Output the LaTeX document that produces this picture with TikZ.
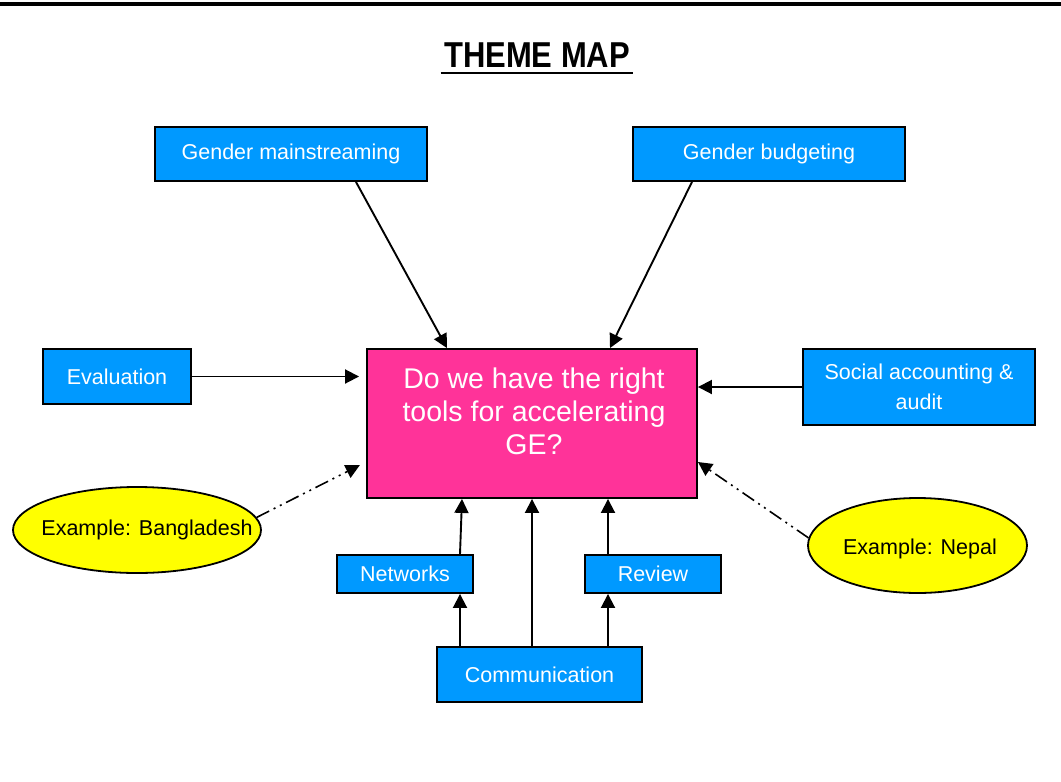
\documentclass[tikz,border=0pt]{standalone}
\usepackage{fontspec}
\setmainfont{Liberation Sans}
\newfontfamily\titlefont[FakeStretch=0.86]{Liberation Sans}
\usetikzlibrary{arrows.meta,shapes.geometric}
\definecolor{boxblue}{HTML}{0099FF}
\definecolor{mainpink}{HTML}{FF3399}
\definecolor{exyellow}{HTML}{FFFF00}
\begin{document}
\begin{tikzpicture}[x=1pt,y=-1pt,
  box/.style={draw=black, line width=1.9pt, fill=boxblue, text=white,
    font=\fontsize{21.5}{30}\selectfont, inner sep=0pt, align=center},
  example/.style={ellipse, draw=black, line width=1.8pt, fill=exyellow, text=black, inner sep=0pt},
  extext/.style={font=\fontsize{21.5}{25}\selectfont, text=black},
  arr/.style={draw=black, line width=1.9pt, -{Triangle[length=14pt,width=14pt]}},
  dotarr/.style={arr, line width=1.6pt, dash pattern=on 14pt off 5pt on 2pt off 5pt on 2pt off 5pt}]
\useasboundingbox (0,0) rectangle (1061,782);
\draw[line width=3.5pt] (0,4) -- (1061,4);
\node[font=\titlefont\bfseries\fontsize{36}{40}\selectfont] (title) at (537,55) {THEME MAP};
\draw[line width=2.2pt] ([yshift=-6pt]title.base west) -- ([yshift=-6pt]title.base east);

\node[box, minimum width=272pt, minimum height=54pt] (gm) at (291,154) {Gender mainstreaming};
\node[box, minimum width=272pt, minimum height=54pt] (gb) at (769,154) {Gender budgeting};
\node[box, minimum width=148pt, minimum height=55pt] (eval) at (117,376.5) {Evaluation};
\node[box, fill=mainpink, minimum width=330pt, minimum height=149pt] (main) at (532,423.5) {};
\node[align=center, text=white, font=\fontsize{28.5}{33}\selectfont] (q) at (534,411) {Do we have the right\\tools for accelerating\\GE?};
\node[box, minimum width=232pt, minimum height=76pt] (soc) at (919,387) {Social accounting \&\\audit};
\node[box, minimum width=136pt, minimum height=38pt] (net) at (405,574) {Networks};
\node[box, minimum width=136pt, minimum height=38pt] (rev) at (653,574) {Review};
\node[box, minimum width=205pt, minimum height=55pt] (comm) at (539.5,674.5) {Communication};
\node[example, minimum width=248pt, minimum height=86pt] (bang) at (137,530) {};
\node[extext] (bangt) at (147,530) {Example: Bangladesh};
\node[example, minimum width=219pt, minimum height=95pt] (nep) at (917.5,545.5) {};
\node[extext] (nept) at (920,549) {Example: Nepal};

\draw[arr] ([xshift=65pt]gm.south) -- ([xshift=-85pt]main.north);
\draw[arr] ([xshift=-77pt]gb.south) -- ([xshift=78pt]main.north);
\draw[arr, shorten >=7pt] (eval.east) -- (eval.east -| main.west);
\draw[arr] (soc.west) -- (soc.west -| main.east);
\draw[dotarr, shorten >=7pt] (bang.6) -- ([yshift=-38.5pt]main.west);
\draw[dotarr] (nep.176) -- ([yshift=-38.5pt]main.east);
\draw[arr] ([xshift=55pt]net.north) -- ([xshift=-70pt]main.south);
\draw[arr] ([xshift=-79.5pt]comm.north) -- ([xshift=55pt]net.south);
\draw[arr] ([xshift=-7.5pt]comm.north) -- (main.south);
\draw[arr] ([xshift=68.5pt]comm.north) -- ([xshift=-45pt]rev.south);
\draw[arr] ([xshift=-45pt]rev.north) -- ([xshift=76pt]main.south);
\end{tikzpicture}
\end{document}
